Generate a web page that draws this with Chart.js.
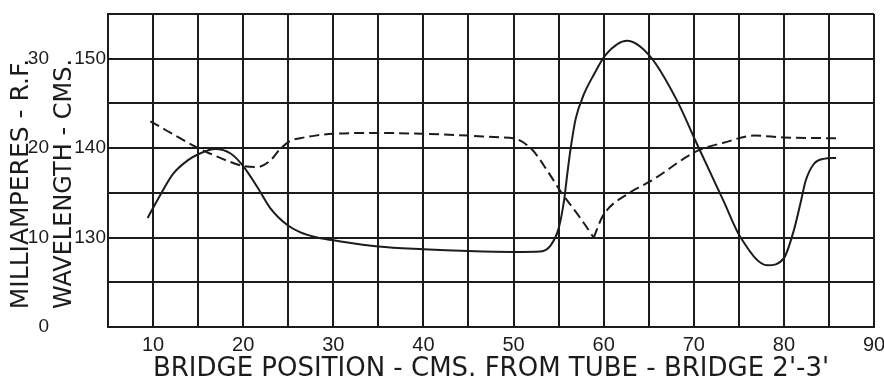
<!DOCTYPE html>
<html>
<head>
<meta charset="utf-8">
<title>Bridge position</title>
<script src="https://cdn.jsdelivr.net/npm/chart.js@4.4.1/dist/chart.umd.min.js"></script>
<style>
  html, body { margin: 0; padding: 0; background: #fff; }
  #chart { display: block; }
</style>
</head>
<body>
<canvas id="chart" width="884" height="385"></canvas>
<script>
// R.F. current, milliamperes, against bridge position (cms from tube)
const currentPos = [9.4, 10.6, 12.2, 13.8, 15.2, 16.9, 18.6, 20.0, 21.6, 23.0, 24.9, 26.3, 28.2, 30.0,
  35.0, 40.0, 45.0, 50.0, 53.0, 54.1, 55.0, 55.6, 56.0, 56.3, 56.9, 57.8, 58.9, 60.2, 62.6, 65.2, 68.2,
  70.2, 73.3, 75.2, 78.2, 80.0, 81.1, 81.9, 82.4, 83.3, 84.4, 85.8];
const currentMA = [12.2, 14.4, 17.1, 18.6, 19.4, 19.9, 19.4, 18.0, 15.6, 13.3, 11.4, 10.6, 10.0, 9.7,
  9.0, 8.7, 8.5, 8.4, 8.45, 9.1, 11.0, 14.1, 17.4, 19.7, 23.3, 26.0, 28.2, 30.4, 32.0, 30.2, 25.2,
  20.8, 14.1, 10.0, 6.9, 7.7, 10.8, 14.1, 16.3, 18.2, 18.8, 18.9];

// wavelength, cms, against bridge position
const wavePos = [9.7, 15.2, 16.3, 18.2, 20.0, 21.6, 23.0, 24.1, 25.2, 26.3, 28.0, 30.0, 35.0, 40.0,
  45.0, 48.6, 50.0, 52.0, 53.8, 55.2, 57.4, 58.9, 59.9, 62.7, 65.2, 70.4, 73.3, 76.7, 80.0, 86.3];
const waveCms = [143.0, 139.9, 139.4, 138.6, 138.0, 137.9, 138.6, 139.9, 140.8, 141.1, 141.4, 141.6, 141.7, 141.6,
  141.4, 141.2, 141.1, 139.9, 137.4, 135.2, 132.2, 130.0, 132.4, 134.9, 136.3, 139.7, 140.6, 141.4, 141.2, 141.1];

const xTickLabels = [10, 20, 30, 40, 50, 60, 70, 80, 90];
const waveTickLabels = [130, 140, 150];
const currentTickLabels = [0, 10, 20, 30];

const ink = '#1c1c1c';
const plain = "'Liberation Sans', Arial, sans-serif";
const lettering = "'DejaVu Sans', sans-serif";

const currentPoints = currentPos.map((x, i) => ({ x, y: currentMA[i] }));
const wavePoints = wavePos.map((x, i) => ({ x, y: waveCms[i] }));
// the wavelength curve has a sharp notch, so draw it as two branches
const notch = waveCms.indexOf(Math.min(...waveCms));
const waveFalling = wavePoints.slice(0, notch + 1);
const waveRising = wavePoints.slice(notch);

const curve = {
  borderColor: ink,
  borderWidth: 2,
  pointRadius: 0,
  fill: false,
  cubicInterpolationMode: 'monotone'
};

// rotated titles for the two left-hand scales
const sideTitles = {
  id: 'sideTitles',
  afterDraw(chart) {
    const { ctx } = chart;
    const titles = [['MILLIAMPERES - R.F.', 21, 25], ['WAVELENGTH - CMS.', 65, 24]];
    ctx.save();
    ctx.fillStyle = ink;
    ctx.textAlign = 'center';
    ctx.textBaseline = 'middle';
    titles.forEach(([text, x, size]) => {
      ctx.save();
      ctx.font = size + 'px ' + lettering;
      ctx.translate(x, 184);
      ctx.rotate(-Math.PI / 2);
      ctx.fillText(text, 0, 0);
      ctx.restore();
    });
    ctx.restore();
  }
};

new Chart(document.getElementById('chart'), {
  type: 'line',
  data: {
    datasets: [
      { ...curve, data: currentPoints, yAxisID: 'y1' },
      { ...curve, data: waveFalling, yAxisID: 'y', borderDash: [10, 5] },
      { ...curve, data: waveRising, yAxisID: 'y', borderDash: [10, 5] }
    ]
  },
  options: {
    responsive: false,
    animation: false,
    devicePixelRatio: 1,
    layout: { padding: { top: 14, right: 10, left: 0, bottom: 0 } },
    plugins: {
      legend: { display: false },
      tooltip: { enabled: false }
    },
    scales: {
      x: {
        type: 'linear',
        min: 5,
        max: 90,
        ticks: {
          stepSize: 5,
          autoSkip: false,
          maxRotation: 0,
          padding: 6,
          color: ink,
          font: { family: plain, size: 20 },
          callback: v => xTickLabels.includes(v) ? String(v) : ''
        },
        grid: { color: ink, lineWidth: 2, drawTicks: false },
        border: { color: ink, width: 2 },
        title: {
          display: true,
          text: "BRIDGE POSITION - CMS. FROM TUBE - BRIDGE 2'-3'",
          color: ink,
          font: { family: lettering, size: 26, lineHeight: 1.1 },
          padding: { top: 0, bottom: 1 }
        },
        afterFit: s => {
          s.height = 58;
          // let the end labels hang over the edges instead of shrinking the plot
          s.paddingLeft = 0;
          s.paddingRight = 0;
        }
      },
      y: {
        position: 'left',
        weight: 0,
        min: 120,
        max: 155,
        ticks: {
          stepSize: 5,
          padding: 2,
          color: ink,
          font: { family: plain, size: 19 },
          callback: v => waveTickLabels.includes(v) ? String(v) : ''
        },
        grid: { color: ink, lineWidth: 2, drawTicks: false },
        border: { color: ink, width: 2 },
        afterFit: s => { s.width = 58; }
      },
      y1: {
        position: 'left',
        weight: 1,
        min: 0,
        max: 35,
        ticks: {
          stepSize: 5,
          padding: 1,
          color: ink,
          font: { family: plain, size: 19 },
          callback: v => currentTickLabels.includes(v) ? String(v) : ''
        },
        grid: { display: false, drawTicks: false },
        border: { display: false },
        afterFit: s => { s.width = 50; }
      }
    }
  },
  plugins: [sideTitles]
});
</script>
</body>
</html>
